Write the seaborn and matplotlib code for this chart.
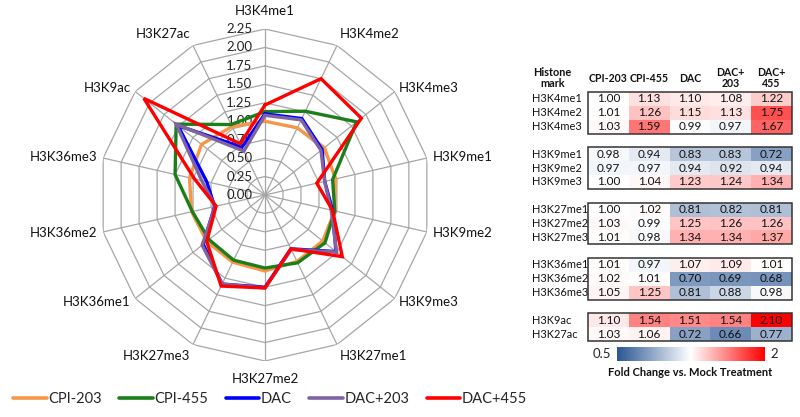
import numpy as np
import pandas as pd
import seaborn as sns
import matplotlib.pyplot as plt
from matplotlib.colors import LinearSegmentedColormap, TwoSlopeNorm
from matplotlib.patches import Rectangle
from matplotlib.lines import Line2D
from matplotlib.cm import ScalarMappable

# Histone marks (radar axes clockwise from top, also the table rows)
marks = ["H3K4me1", "H3K4me2", "H3K4me3",
         "H3K9me1", "H3K9me2", "H3K9me3",
         "H3K27me1", "H3K27me2", "H3K27me3",
         "H3K36me1", "H3K36me2", "H3K36me3",
         "H3K9ac", "H3K27ac"]
group_sizes = [3, 3, 3, 3, 2]

treatments = ["CPI-203", "CPI-455", "DAC", "DAC+203", "DAC+455"]
table_headers = ["CPI-203", "CPI-455", "DAC", "DAC+\n203", "DAC+\n455"]

# Fold change vs. mock treatment
cpi203 = [1.00, 1.01, 1.03, 0.98, 0.97, 1.00, 1.00, 1.03, 1.01, 1.01, 1.02, 1.05, 1.10, 1.03]
cpi455 = [1.13, 1.26, 1.59, 0.94, 0.97, 1.04, 1.02, 0.99, 0.98, 0.97, 1.01, 1.25, 1.54, 1.06]
dac = [1.10, 1.15, 0.99, 0.83, 0.94, 1.23, 0.81, 1.25, 1.34, 1.07, 0.70, 0.81, 1.51, 0.72]
dac203 = [1.08, 1.13, 0.97, 0.83, 0.92, 1.24, 0.82, 1.26, 1.34, 1.09, 0.69, 0.88, 1.54, 0.66]
dac455 = [1.22, 1.75, 1.67, 0.72, 0.94, 1.34, 0.81, 1.26, 1.37, 1.01, 0.68, 0.98, 2.10, 0.77]

radial_ticks = [0.00, 0.25, 0.50, 0.75, 1.00, 1.25, 1.50, 1.75, 2.00, 2.25]

line_colors = ["#f79646", "#1a7f1a", "#0000ff", "#8064a2", "#ff0000"]

sns.set_theme(style="white")
plt.rcParams["font.family"] = ["Lato", "DejaVu Sans"]

fig = plt.figure(figsize=(8, 4.17), dpi=100)

# ---------------- radar chart ----------------
W, H = 800, 417
cx, cy, R = 265, 195, 166
ax = fig.add_axes([(cx - R) / W, (H - cy - R) / H, 2 * R / W, 2 * R / H], projection="polar")
ax.set_theta_zero_location("N")
ax.set_theta_direction(-1)
ax.set_ylim(0, radial_ticks[-1])
ax.grid(False)
ax.set_xticks([])
ax.set_yticks([])
ax.spines["polar"].set_visible(False)
ax.patch.set_visible(False)

n = len(marks)
angles = np.linspace(0, 2 * np.pi, n, endpoint=False)
closed = np.append(angles, angles[0])

# polygon grid
for r in radial_ticks[1:]:
    ax.plot(closed, [r] * (n + 1), color="#a6a6a6", lw=0.9, zorder=1)
for a in angles:
    ax.plot([a, a], [0, radial_ticks[-1]], color="#a6a6a6", lw=0.9, zorder=1)

for r in radial_ticks:
    ax.annotate(f"{r:.2f}", xy=(0, r), xytext=(-9, 0), textcoords="offset points",
                ha="right", va="center", fontsize=9.5, color="#222222", zorder=2)

for a, name in zip(angles, marks):
    s, c = np.sin(a), np.cos(a)
    ha = "left" if s > 0.1 else ("right" if s < -0.1 else "center")
    va = "bottom" if c > 0.7 else ("top" if c < -0.7 else "center")
    d = 9 if abs(s) < 0.1 else 4
    ax.annotate(name, xy=(a, radial_ticks[-1]), xytext=(s * d, c * d),
                textcoords="offset points", ha=ha, va=va, fontsize=9.5, color="#111111")

series = [cpi203, cpi455, dac, dac203, dac455]
for vals, col, lab in zip(series, line_colors, treatments):
    v = np.append(vals, vals[0])
    ax.plot(closed, v, color=col, lw=2.4, label=lab, zorder=3, solid_joinstyle="miter")

handles = [Line2D([0], [0], color=c, lw=2.6) for c in line_colors]
fig.legend(handles, treatments, loc="lower left", bbox_to_anchor=(0.0, -0.005), ncol=5,
           frameon=False, fontsize=10.5, handlelength=2.3, handletextpad=0.1,
           columnspacing=1.2)

# ---------------- heat table ----------------
rows, labels = [], []
start = 0
for gi, g in enumerate(group_sizes):
    for i in range(start, start + g):
        rows.append([cpi203[i], cpi455[i], dac[i], dac203[i], dac455[i]])
        labels.append(marks[i])
    start += g
    if gi < len(group_sizes) - 1:
        rows.append([np.nan] * 5)
        labels.append("")
df = pd.DataFrame(rows, columns=treatments)

cmap = LinearSegmentedColormap.from_list("fc", ["#2a5694", "#ffffff", "#ff0000"])
norm = TwoSlopeNorm(vmin=0.5, vcenter=1.0, vmax=2.1)

tx0, tx1, ty0, ty1 = 588, 792, 92, 341
tax = fig.add_axes([tx0 / W, (H - ty1) / H, (tx1 - tx0) / W, (ty1 - ty0) / H])
sns.heatmap(df, ax=tax, cmap=cmap, norm=norm, cbar=False, annot=True, fmt=".2f",
            mask=df.isna(), annot_kws={"color": "#111111", "fontsize": 8.5},
            xticklabels=False, yticklabels=False)
tax.set_xlabel("")
tax.set_ylabel("")

for i, lab in enumerate(labels):
    if lab:
        tax.text(-1.38, i + 0.5, lab, ha="left", va="center", fontsize=7.9, color="#111111")
for j, h in enumerate(table_headers):
    tax.text(j + 0.5, -1.0, h, ha="center", va="center", fontsize=7.6,
             fontweight="bold", color="#111111", linespacing=1.05)
tax.text(-0.87, -1.0, "Histone\nmark", ha="center", va="center", fontsize=7.8,
         fontweight="bold", color="#111111", linespacing=1.05)

start = 0
for g in group_sizes:
    tax.add_patch(Rectangle((0, start), 5, g, fill=False, lw=1.1, edgecolor="#333333",
                            clip_on=False))
    start += g + 1

# colour bar
cax = fig.add_axes([617 / W, (H - 361) / H, 148 / W, 14 / H])
cb = fig.colorbar(ScalarMappable(norm=TwoSlopeNorm(vmin=0.5, vcenter=1.0, vmax=2.0), cmap=cmap),
                  cax=cax, orientation="horizontal")
cb.outline.set_visible(False)
cb.set_ticks([])
cax.text(-0.04, 0.5, "0.5", transform=cax.transAxes, ha="right", va="center", fontsize=9.5)
cax.text(1.04, 0.5, "2", transform=cax.transAxes, ha="left", va="center", fontsize=9.5)
fig.text(690 / W, 1 - 372 / H, "Fold Change vs. Mock Treatment", ha="center", va="center",
         fontsize=8, fontweight="bold", color="#111111")

fig.savefig("out.png", dpi=100)
